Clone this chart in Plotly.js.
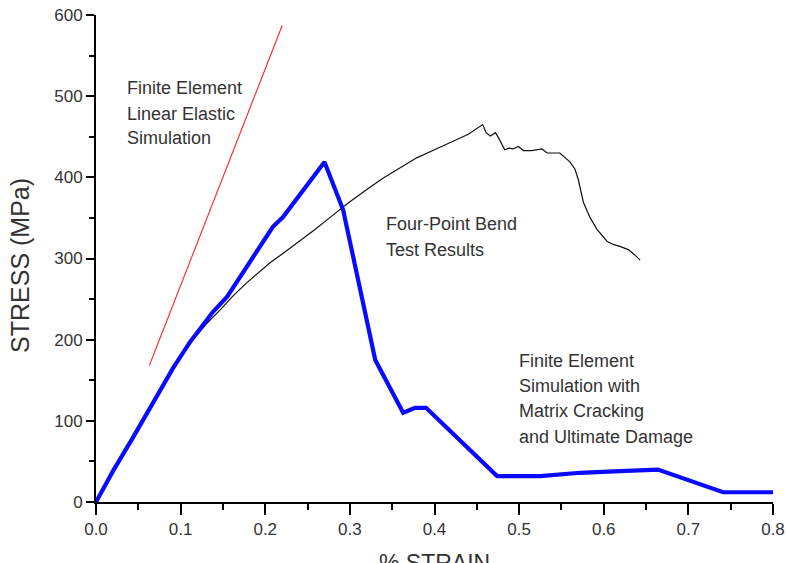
<!DOCTYPE html>
<html>
<head>
<meta charset="utf-8">
<script src="https://cdn.plot.ly/plotly-3.0.1.min.js"></script>
<style>
  html, body { margin: 0; padding: 0; background: #fff; }
  #chart { width: 787px; height: 563px; }
</style>
</head>
<body>
<div id="chart"></div>
<script>
// Finite element linear elastic simulation (red)
const elasticStrain = [0.063, 0.22];
const elasticStress = [168, 587];

// Four-point bend test results (black)
const testStrain = [0, 0.015, 0.03, 0.05, 0.067, 0.085, 0.1, 0.115, 0.13, 0.147, 0.162, 0.178, 0.192, 0.206, 0.222, 0.238, 0.258, 0.277, 0.3, 0.32, 0.339, 0.36, 0.379, 0.4, 0.418, 0.44, 0.457, 0.461, 0.466, 0.472, 0.476, 0.483, 0.488, 0.493, 0.499, 0.505, 0.515, 0.527, 0.533, 0.548, 0.56, 0.566, 0.57, 0.576, 0.584, 0.592, 0.604, 0.612, 0.619, 0.629, 0.636, 0.643];
const testStress = [0, 29, 57, 94, 122, 153, 178, 200, 219, 237, 254, 270, 283, 295, 307, 319, 335, 351, 370, 385, 399, 412, 424, 434, 443, 453, 465, 455, 451, 455, 448, 434, 436, 435, 438, 433, 433, 435, 430, 430, 419, 410, 397, 369, 350, 336, 321, 317, 315, 311, 305, 298];

// Finite element simulation with matrix cracking and ultimate damage (blue)
const damageStrain = [0, 0.02, 0.044, 0.07, 0.091, 0.111, 0.138, 0.155, 0.178, 0.209, 0.221, 0.27, 0.292, 0.33, 0.363, 0.377, 0.39, 0.474, 0.525, 0.572, 0.619, 0.664, 0.741, 0.8];
const damageStress = [0, 38, 80, 126, 165, 197, 234, 253, 290, 339, 351, 419, 360, 175, 110, 116, 116, 32, 32, 36, 38, 40, 12, 12];

// Axis ticks
const xTickVals = [0, 0.1, 0.2, 0.3, 0.4, 0.5, 0.6, 0.7, 0.8];
const xTickText = ["0.0", "0.1", "0.2", "0.3", "0.4", "0.5", "0.6", "0.7", "0.8"];
const yTickVals = [0, 100, 200, 300, 400, 500, 600];
const yTickText = ["0", "100", "200", "300", "400", "500", "600"];

// Text labels on the chart
const labelLines = [
  ["Finite Element", 0.034, 510],
  ["Linear Elastic", 0.034, 478],
  ["Simulation", 0.034, 449],
  ["Four-Point Bend", 0.3405, 342],
  ["Test Results", 0.3405, 311],
  ["Finite Element", 0.4975, 174],
  ["Simulation with", 0.4975, 143],
  ["Matrix Cracking", 0.4975, 112],
  ["and Ultimate Damage", 0.4975, 80]
];

const FONT = "Liberation Sans, Arial, sans-serif";
const TXT = "#333333";

const traces = [
  { x: elasticStrain, y: elasticStress, mode: "lines", line: { color: "#ff2020", width: 1.1 }, name: "Linear Elastic" },
  { x: testStrain, y: testStress, mode: "lines", line: { color: "#111111", width: 1.2 }, name: "Test" },
  { x: damageStrain, y: damageStress, mode: "lines", line: { color: "#0a0aff", width: 4.2 }, name: "Damage" }
];

const annotations = labelLines.map(l => ({
  text: l[0], x: l[1], y: l[2], xref: "x", yref: "y",
  xanchor: "left", yanchor: "middle", showarrow: false,
  font: { family: FONT, size: 18, color: TXT }
}));
annotations.push({
  text: "% STRAIN", xref: "paper", yref: "paper", x: 0.5, y: -0.095,
  xanchor: "center", yanchor: "top", showarrow: false,
  font: { family: FONT, size: 23, color: TXT }
});
annotations.push({
  text: "STRESS (MPa)", xref: "paper", yref: "paper", x: -0.1123, y: 0.4867,
  xanchor: "center", yanchor: "middle", textangle: -90, showarrow: false,
  font: { family: FONT, size: 25, color: TXT }
});

const layout = {
  width: 787, height: 563,
  margin: { l: 96, r: 14, t: 15, b: 61, pad: 0 },
  paper_bgcolor: "#ffffff", plot_bgcolor: "#ffffff",
  showlegend: false,
  font: { family: FONT, color: TXT, size: 17 },
  xaxis: {
    range: [0, 0.8], tickvals: xTickVals, ticktext: xTickText,
    showgrid: false, zeroline: false, showline: true, linecolor: "#000", linewidth: 2,
    ticks: "outside", ticklen: 11, tickwidth: 2, tickcolor: "#000",
    tickfont: { family: FONT, size: 17, color: TXT },
    minor: { dtick: 0.05, tick0: 0, ticks: "outside", ticklen: 6, tickwidth: 2, tickcolor: "#000", showgrid: false },
    automargin: false, fixedrange: true
  },
  yaxis: {
    range: [0, 600], tickvals: yTickVals, ticktext: yTickText,
    showgrid: false, zeroline: false, showline: true, linecolor: "#000", linewidth: 2,
    ticks: "outside", ticklen: 8, tickwidth: 2, tickcolor: "#000",
    tickfont: { family: FONT, size: 17, color: TXT },
    minor: { dtick: 50, tick0: 0, ticks: "outside", ticklen: 5, tickwidth: 2, tickcolor: "#000", showgrid: false },
    automargin: false, fixedrange: true
  },
  annotations: annotations
};

Plotly.newPlot("chart", traces, layout, { displayModeBar: false, staticPlot: true });
</script>
</body>
</html>
